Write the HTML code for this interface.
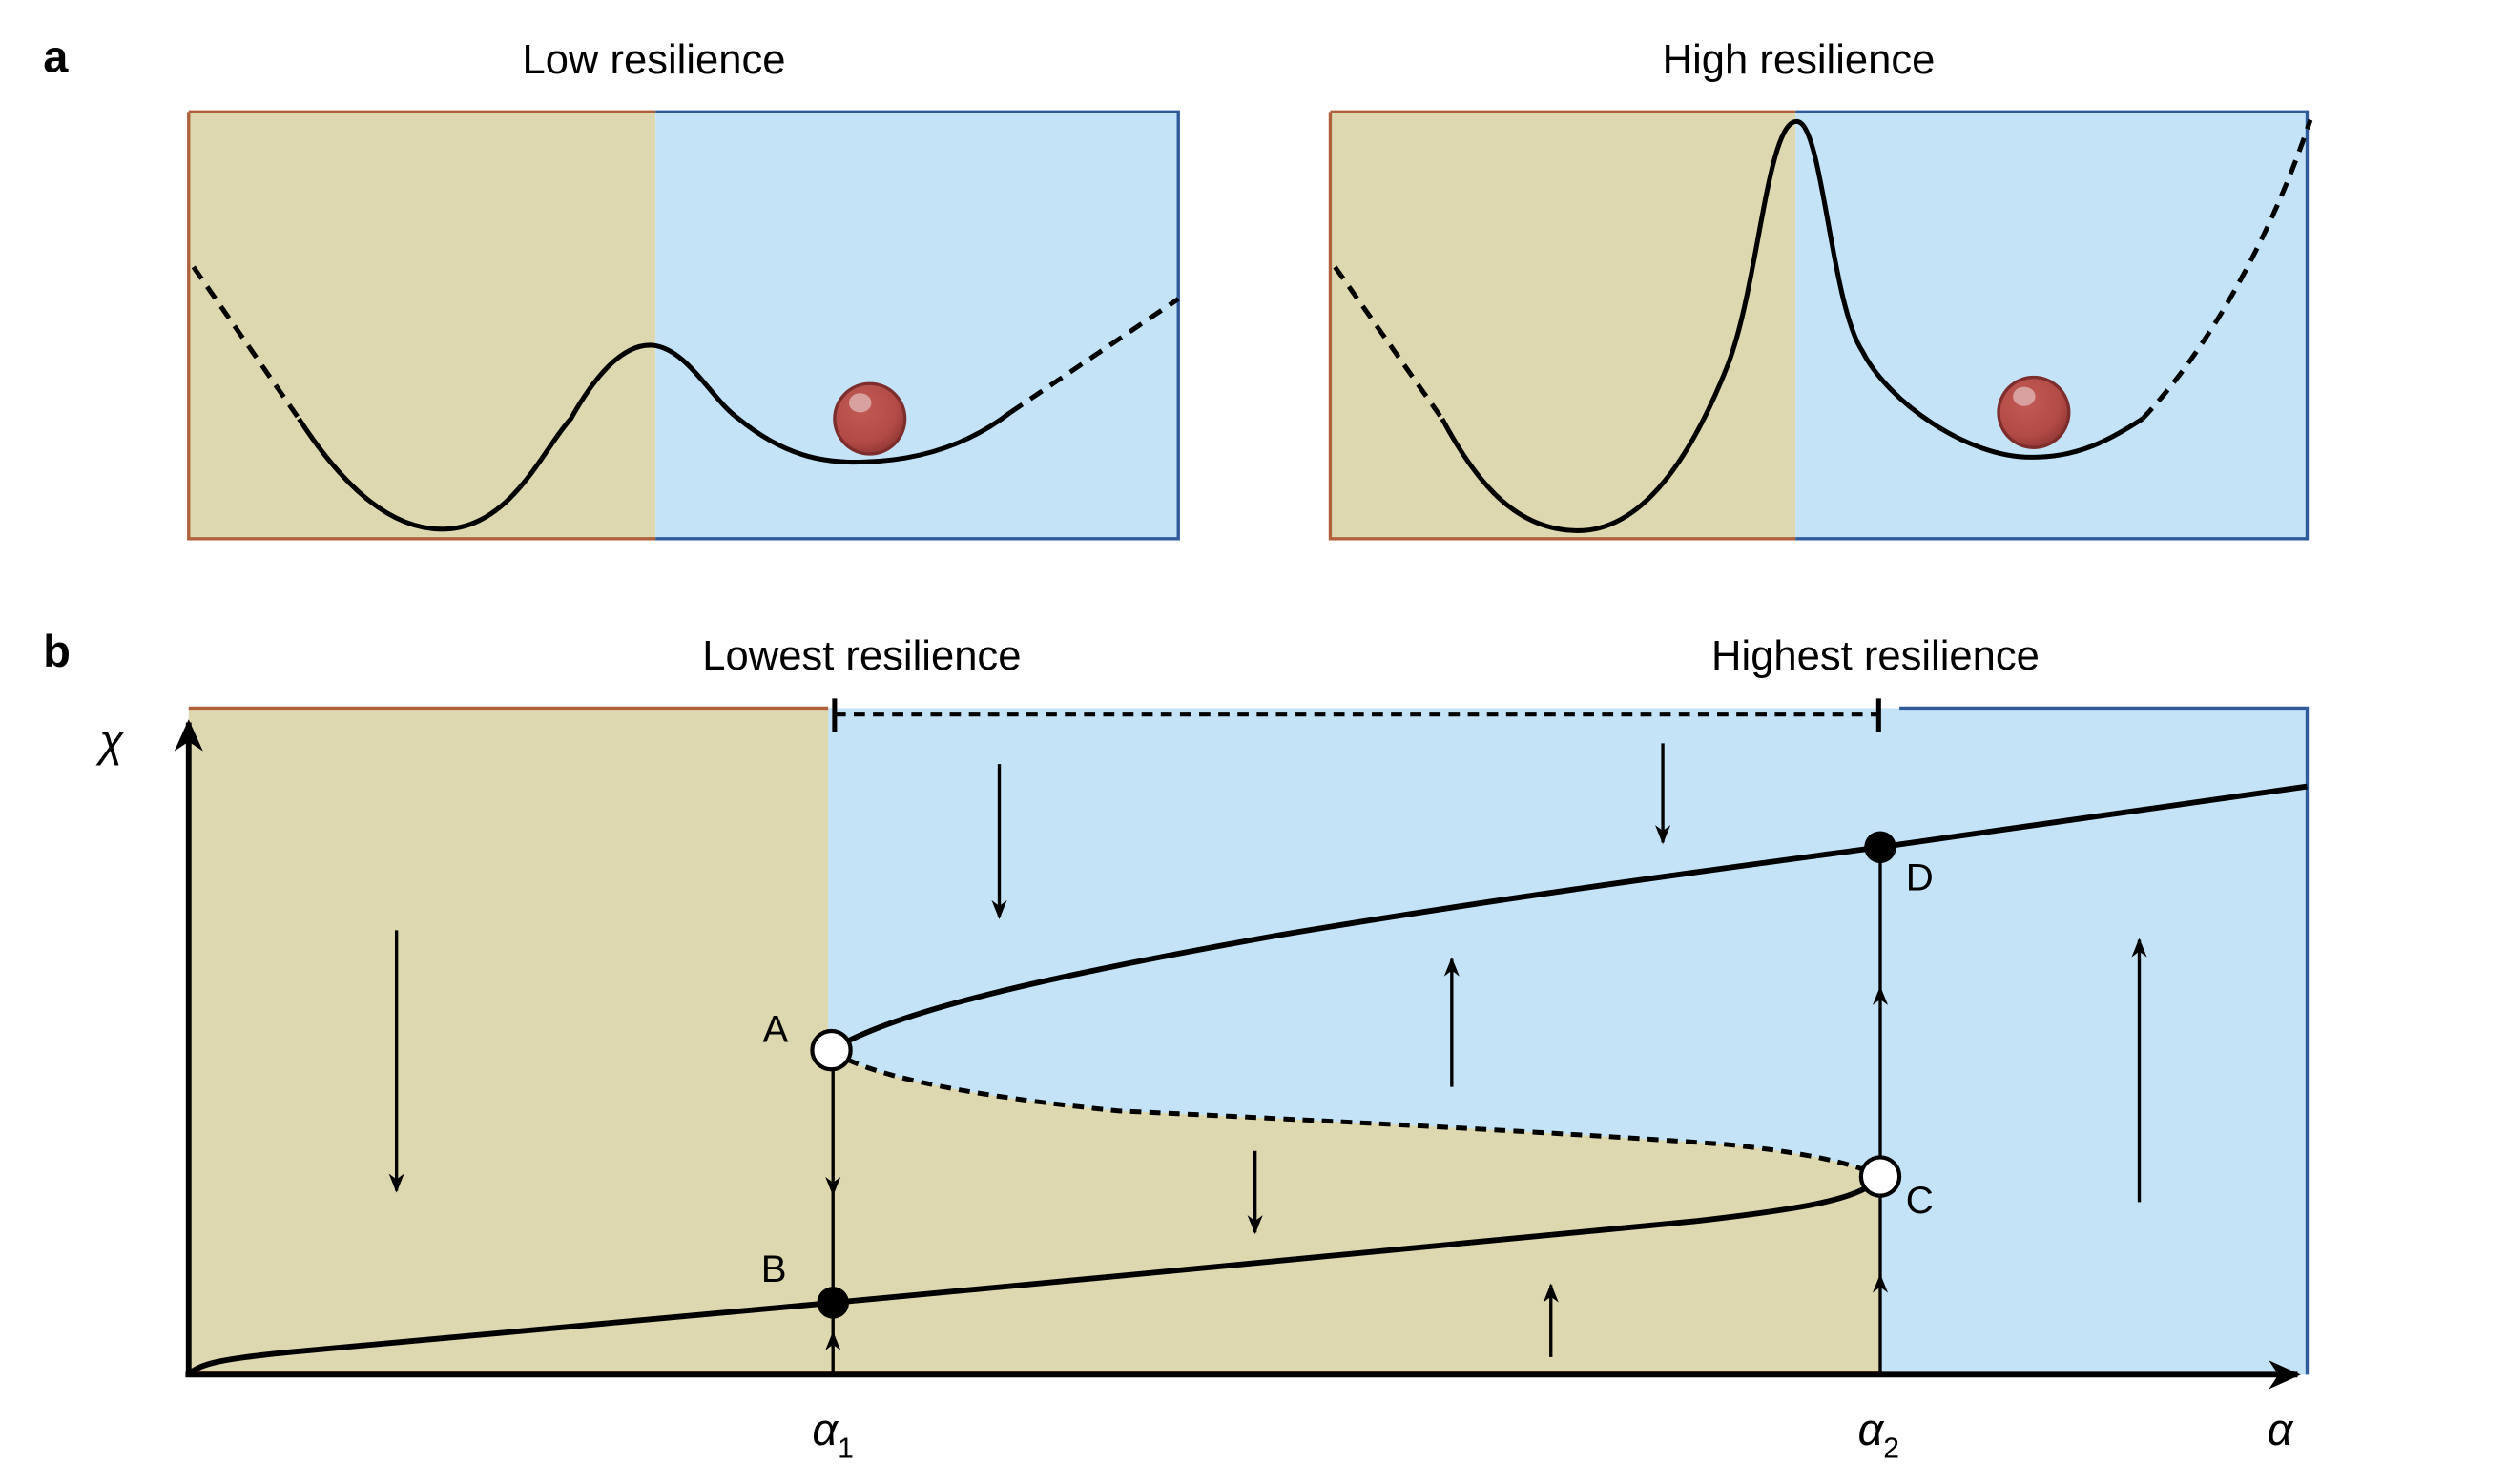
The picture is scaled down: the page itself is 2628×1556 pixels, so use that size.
<!DOCTYPE html>
<html><head><meta charset="utf-8"><style>
html,body{margin:0;padding:0;background:#fff;}
svg{display:block;}
text{font-family:"Liberation Sans",sans-serif;fill:#000;}
</style></head><body>
<svg width="2628" height="1556" viewBox="0 0 1568 928.4" preserveAspectRatio="none" xmlns="http://www.w3.org/2000/svg">
<defs>
<marker id="ah" viewBox="0 0 10 10" refX="9" refY="5" markerWidth="12" markerHeight="12" orient="auto-start-reverse" markerUnits="userSpaceOnUse"><path d="M0,1 L10,5 L0,9 L3,5 z" fill="#000"/></marker>
<marker id="big" viewBox="0 0 10 10" refX="9" refY="5" markerWidth="20" markerHeight="20" orient="auto" markerUnits="userSpaceOnUse"><path d="M0,0.5 L10,5 L0,9.5 L3,5 z" fill="#000"/></marker>
<radialGradient id="ball" cx="0.4" cy="0.35" r="0.7"><stop offset="0" stop-color="#c25a55"/><stop offset="0.7" stop-color="#b24a46"/><stop offset="1" stop-color="#8e3532"/></radialGradient>
</defs>

<text x="27" y="45" font-size="28" font-weight="bold">a</text>
<text x="409" y="46" font-size="26" text-anchor="middle">Low resilience</text>
<text x="1125" y="46" font-size="26" text-anchor="middle">High resilience</text>

<g>
<rect x="118" y="70" width="292" height="267" fill="#ddd8b0"/>
<rect x="410" y="70" width="327" height="267" fill="#c5e3f7"/>
<path d="M118,70 H410 M118,70 V337 H410" fill="none" stroke="#b0603a" stroke-width="2"/>
<path d="M410,70 H737 V337 H410" fill="none" stroke="#2f5b9c" stroke-width="2"/>
<path d="M121,167 L187,262" fill="none" stroke="#000" stroke-width="3" stroke-dasharray="9,6"/>
<path d="M187,262 C215,305 245,332 278,331 C320,330 340,280 357,262 C375,230 392,215 408,216 C430,218 445,250 462,262 C490,285 515,290 540,289 C580,288 610,275 632,258" fill="none" stroke="#000" stroke-width="3"/>
<path d="M632,258 L737,187" fill="none" stroke="#000" stroke-width="3" stroke-dasharray="9,6"/>
<circle cx="544" cy="262" r="22" fill="url(#ball)" stroke="#7d2e2c" stroke-width="2"/>
<ellipse cx="538" cy="252" rx="7" ry="6" fill="#d8a09e"/>
</g>

<g>
<rect x="832" y="70" width="291" height="267" fill="#ddd8b0"/>
<rect x="1123" y="70" width="320" height="267" fill="#c5e3f7"/>
<path d="M832,70 H1123 M832,70 V337 H1123" fill="none" stroke="#b0603a" stroke-width="2"/>
<path d="M1123,70 H1443 V337 H1123" fill="none" stroke="#2f5b9c" stroke-width="2"/>
<path d="M835,167 L902,262" fill="none" stroke="#000" stroke-width="3" stroke-dasharray="9,6"/>
<path d="M902,262 C925,305 950,332 987,332 C1030,332 1060,280 1080,230 C1100,180 1105,75 1124,76 C1140,77 1145,190 1165,220 C1180,250 1230,287 1272,286 C1300,286 1320,275 1340,262" fill="none" stroke="#000" stroke-width="3"/>
<path d="M1340,262 C1380,220 1420,150 1445,75" fill="none" stroke="#000" stroke-width="3" stroke-dasharray="9,6"/>
<circle cx="1272" cy="258" r="22" fill="url(#ball)" stroke="#7d2e2c" stroke-width="2"/>
<ellipse cx="1266" cy="248" rx="7" ry="6" fill="#d8a09e"/>
</g>

<text x="27" y="417" font-size="28" font-weight="bold">b</text>
<text x="539" y="419" font-size="26" text-anchor="middle">Lowest resilience</text>
<text x="1173" y="419" font-size="26" text-anchor="middle">Highest resilience</text>

<g>
<rect x="118" y="443" width="1325" height="417" fill="#c5e3f7"/>
<path d="M118,443 H518 V657 C540,672 600,685 700,695 C850,702 1000,710 1080,716 C1130,721 1160,728 1176,736 V860 H118 Z" fill="#ddd8b0"/>
<path d="M118,443 H518" stroke="#b0603a" stroke-width="2"/>
<path d="M1188,443 H1443 V860" fill="none" stroke="#2f5b9c" stroke-width="2"/>
<path d="M118,859 H1176" stroke="#b0603a" stroke-width="2"/>
<path d="M522,447 H1175" stroke="#000" stroke-width="2.5" stroke-dasharray="7,5"/>
<path d="M522,437 V458 M1175,437 V458" stroke="#000" stroke-width="3"/>

<path d="M521,657 V860" stroke="#000" stroke-width="2"/>
<path d="M1176,530 V860" stroke="#000" stroke-width="2"/>
<path d="M521,700 V747" fill="none" stroke="none" marker-end="url(#ah)"/>
<path d="M521,855 V834" fill="none" stroke="none" marker-end="url(#ah)"/>
<path d="M1176,650 V618" fill="none" stroke="none" marker-end="url(#ah)"/>
<path d="M1176,830 V798" fill="none" stroke="none" marker-end="url(#ah)"/>

<g stroke="#000" stroke-width="2" fill="none">
<path d="M248,582 V745" marker-end="url(#ah)"/>
<path d="M625,478 V574" marker-end="url(#ah)"/>
<path d="M1040,465 V527" marker-end="url(#ah)"/>
<path d="M908,680 V600" marker-end="url(#ah)"/>
<path d="M1338,752 V588" marker-end="url(#ah)"/>
<path d="M785,720 V771" marker-end="url(#ah)"/>
<path d="M970,849 V804" marker-end="url(#ah)"/>
</g>

<path d="M520,657 C560,632 660,610 800,585 C950,560 1080,543 1176,530 L1443,492" fill="none" stroke="#000" stroke-width="3.5"/>
<path d="M520,657 C540,672 600,685 700,695 C850,702 1000,710 1080,716 C1130,721 1160,728 1176,736" fill="none" stroke="#000" stroke-width="3" stroke-dasharray="7,5"/>
<path d="M118,860 C124,853 140,850 180,846 L521,815 C700,798 900,780 1060,764 C1130,756 1165,750 1176,736" fill="none" stroke="#000" stroke-width="3.5"/>

<path d="M118,860 V452" stroke="#000" stroke-width="3.5" marker-end="url(#big)"/>
<path d="M116,860 H1437" stroke="#000" stroke-width="3.5" marker-end="url(#big)"/>
<text x="62" y="473" font-size="28" font-style="italic" font-family="Liberation Serif,serif">χ</text>
<text x="508" y="904" font-size="28" font-style="italic" font-family="Liberation Serif,serif">α<tspan font-size="18" font-style="normal" dy="8">1</tspan></text>
<text x="1162" y="904" font-size="28" font-style="italic" font-family="Liberation Serif,serif">α<tspan font-size="18" font-style="normal" dy="8">2</tspan></text>
<text x="1418" y="904" font-size="28" font-style="italic" font-family="Liberation Serif,serif">α</text>

<circle cx="521" cy="815" r="10" fill="#000"/>
<circle cx="1176" cy="530" r="10" fill="#000"/>
<circle cx="520" cy="657" r="12" fill="#fff" stroke="#000" stroke-width="2.5"/>
<circle cx="1176" cy="736" r="12" fill="#fff" stroke="#000" stroke-width="2.5"/>
<text x="477" y="652" font-size="24">A</text>
<text x="476" y="802" font-size="24">B</text>
<text x="1192" y="759" font-size="24">C</text>
<text x="1192" y="557" font-size="24">D</text>
</g>
</svg>
</body></html>
